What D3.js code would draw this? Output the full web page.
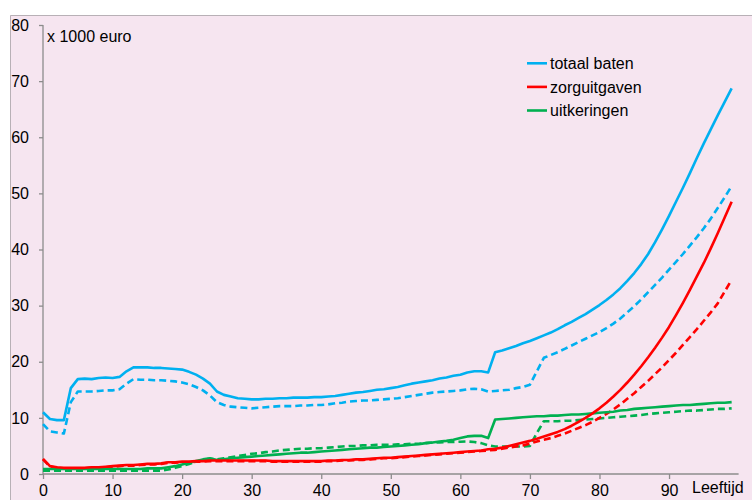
<!DOCTYPE html>
<html><head><meta charset="utf-8">
<script src="https://cdn.jsdelivr.net/npm/d3@7"></script>
<style>body{margin:0;background:#fff}svg{display:block}text{font-family:"Liberation Sans",Arial,sans-serif;fill:#000}</style>
</head><body>
<script>
const ages = d3.range(0, 100);
const xTicks = [0,10,20,30,40,50,60,70,80,90];
const yTicks = [0,10,20,30,40,50,60,70,80];
const legendLabels = ["totaal baten","zorguitgaven","uitkeringen"];

// solid = scenario 1, dashed = scenario 2 (x 1000 euro)
const totaalSolid = [11.0,9.8,9.6,9.6,15.3,16.9,17.0,16.9,17.1,17.2,17.1,17.3,18.3,19.0,19.0,19.0,18.9,18.9,18.8,18.7,
18.6,18.2,17.7,17.0,16.1,14.7,14.1,13.8,13.5,13.4,13.3,13.3,13.4,13.4,13.5,13.5,13.6,13.6,13.6,13.7,
13.7,13.8,13.9,14.1,14.3,14.5,14.6,14.8,15.0,15.1,15.3,15.5,15.8,16.1,16.3,16.5,16.7,17.0,17.2,17.5,
17.7,18.1,18.3,18.3,18.1,21.7,22.0,22.4,22.8,23.3,23.7,24.2,24.7,25.2,25.8,26.5,27.1,27.8,28.5,29.3,
30.1,31.0,32.0,33.1,34.4,35.8,37.4,39.2,41.3,43.6,46.0,48.5,51.0,53.6,56.3,58.9,61.4,63.9,66.3,68.7];
const totaalDashed = [8.9,7.6,7.4,7.2,12.8,14.7,14.7,14.7,14.8,14.9,14.9,15.1,16.1,16.9,16.8,16.8,16.7,16.7,16.6,16.5,
16.3,16.0,15.5,14.9,14.0,12.8,12.3,12.0,11.9,11.8,11.7,11.8,11.9,12.0,12.1,12.1,12.1,12.2,12.2,12.3,
12.3,12.4,12.6,12.7,12.9,13.0,13.1,13.1,13.2,13.3,13.4,13.5,13.7,13.9,14.1,14.3,14.5,14.6,14.7,14.8,
14.9,15.1,15.2,15.1,14.7,14.8,14.9,15.0,15.3,15.5,15.9,18.3,20.7,21.2,21.7,22.3,22.9,23.5,24.1,24.7,
25.3,26.0,26.8,27.7,28.8,29.9,31.1,32.4,33.7,35.0,36.4,37.8,39.2,40.7,42.2,43.8,45.5,47.4,49.3,51.3];
const zorgSolid = [2.7,1.4,1.2,1.1,1.1,1.1,1.1,1.2,1.2,1.3,1.4,1.5,1.6,1.6,1.7,1.8,1.8,1.9,2.1,2.1,
2.2,2.2,2.3,2.3,2.4,2.4,2.4,2.4,2.4,2.4,2.4,2.4,2.4,2.3,2.3,2.3,2.3,2.3,2.3,2.3,
2.3,2.4,2.4,2.5,2.5,2.6,2.6,2.7,2.8,2.9,2.9,3.0,3.1,3.2,3.3,3.4,3.5,3.6,3.7,3.8,
3.9,4.0,4.1,4.2,4.4,4.5,4.7,5.0,5.3,5.6,5.9,6.3,6.7,7.1,7.5,8.0,8.6,9.3,10.0,10.8,
11.7,12.7,13.8,15.0,16.3,17.7,19.2,20.8,22.5,24.3,26.2,28.3,30.5,32.8,35.2,37.6,40.2,42.9,45.7,48.5];
const zorgDashed = [2.6,1.3,1.1,1.0,1.0,1.0,1.0,1.1,1.1,1.2,1.3,1.4,1.5,1.5,1.6,1.7,1.7,1.8,2.0,2.0,
2.1,2.1,2.2,2.2,2.3,2.3,2.3,2.3,2.3,2.3,2.3,2.3,2.3,2.2,2.2,2.2,2.2,2.2,2.2,2.2,
2.2,2.3,2.3,2.4,2.4,2.5,2.5,2.6,2.7,2.8,2.8,2.9,3.0,3.1,3.2,3.3,3.4,3.5,3.6,3.7,
3.8,3.9,4.0,4.1,4.2,4.3,4.5,4.7,4.9,5.1,5.4,5.8,6.1,6.4,6.8,7.2,7.7,8.2,8.7,9.3,
10.0,10.7,11.5,12.4,13.4,14.4,15.5,16.6,17.8,19.0,20.3,21.6,23.0,24.4,25.8,27.3,28.8,30.4,32.5,34.6];
const uitkSolid = [0.9,0.9,0.9,0.9,0.9,0.9,0.9,0.9,0.9,0.9,0.9,0.9,0.9,0.9,0.9,1.0,1.0,1.0,1.2,1.4,
1.7,2.0,2.3,2.6,2.8,2.5,2.6,2.8,2.9,3.0,3.1,3.2,3.3,3.4,3.5,3.6,3.7,3.8,3.8,3.9,
4.0,4.1,4.2,4.3,4.4,4.5,4.6,4.7,4.7,4.8,4.9,5.0,5.1,5.2,5.3,5.5,5.6,5.8,5.9,6.1,
6.4,6.7,6.8,6.8,6.4,9.7,9.8,9.9,10.0,10.1,10.2,10.3,10.3,10.4,10.4,10.5,10.6,10.6,10.7,10.8,
10.9,11.0,11.1,11.3,11.4,11.6,11.7,11.8,11.9,12.0,12.1,12.2,12.3,12.3,12.4,12.5,12.6,12.7,12.7,12.8];
const uitkDashed = [0.6,0.6,0.6,0.6,0.6,0.6,0.6,0.6,0.6,0.6,0.6,0.6,0.6,0.6,0.6,0.6,0.6,0.6,0.8,1.1,
1.4,1.8,2.2,2.5,2.7,2.6,2.8,3.0,3.2,3.4,3.6,3.7,3.9,4.0,4.2,4.3,4.4,4.5,4.5,4.6,
4.6,4.7,4.8,4.9,5.0,5.0,5.1,5.1,5.2,5.2,5.2,5.3,5.3,5.4,5.4,5.5,5.6,5.6,5.7,5.7,
5.75,5.8,5.7,5.5,5.1,4.9,4.9,4.9,4.9,4.9,5.0,7.3,9.4,9.4,9.4,9.5,9.5,9.6,9.7,9.8,
9.9,10.0,10.1,10.2,10.3,10.4,10.5,10.7,10.8,10.9,11.0,11.1,11.2,11.3,11.3,11.4,11.5,11.6,11.6,11.7];

const colors = {blue:"#00B0F0", red:"#FF0000", green:"#00B050"};
const series = [
  {v: uitkDashed, c: colors.green, dash: true},
  {v: zorgDashed, c: colors.red, dash: true},
  {v: totaalDashed, c: colors.blue, dash: true},
  {v: uitkSolid, c: colors.green, dash: false},
  {v: zorgSolid, c: colors.red, dash: false},
  {v: totaalSolid, c: colors.blue, dash: false}
];

const W = 752, H = 500;
const FS = 16;
const svg = d3.select("body").append("svg").attr("width", W).attr("height", H);
svg.append("rect").attr("x",10).attr("y",15).attr("width",W-10).attr("height",H-15).attr("fill","#F6E5F0");
svg.append("path").attr("d","M10.5,500V15.5H752").attr("fill","none").attr("stroke","#B8B0B6").attr("stroke-width",1);

const x = d3.scaleLinear().domain([0,100]).range([43,738.6]);
const y = d3.scaleLinear().domain([0,80]).range([474,25]);

const axisColor = "#8C8C8C";
const gy = svg.append("g").attr("transform","translate(43,0)")
  .call(d3.axisLeft(y).tickValues(yTicks).tickSize(4).tickPadding(10).tickFormat(d3.format("d")));
const gx = svg.append("g").attr("transform","translate(0,474)")
  .call(d3.axisBottom(x).tickValues(xTicks).tickSize(5).tickPadding(6).tickFormat(d3.format("d")));
[gy,gx].forEach(g=>{
  g.select(".domain").attr("stroke",axisColor).attr("stroke-width",1.3);
  g.selectAll(".tick line").attr("stroke",axisColor).attr("stroke-width",1.3);
  g.selectAll(".tick text").attr("font-size",FS).attr("fill","#000").style("font-family","Liberation Sans, Arial, sans-serif");
});
gy.select(".domain").attr("d","M0,474V25");
gx.select(".domain").attr("d","M43,0H738.6");
gx.selectAll(".tick text").attr("dy","0.71em").attr("y",10.5);

svg.append("text").attr("x",47).attr("y",42.3).attr("font-size",FS).text("x 1000 euro");
svg.append("text").attr("x",692).attr("y",492.5).attr("font-size",FS).text("Leeftijd");

const line = d3.line().x((d,i)=>x(ages[i])).y(d=>y(d));
series.forEach(s=>{
  svg.append("path").datum(s.v).attr("d",line).attr("fill","none")
    .attr("stroke",s.c).attr("stroke-width",2.6)
    .attr("stroke-linejoin","round")
    .attr("stroke-dasharray", s.dash ? "7,4" : null);
});

const legendColors = [colors.blue, colors.red, colors.green];
const lg = svg.append("g");
legendLabels.forEach((t,i)=>{
  const yy = 63.3 + i*23.6;
  lg.append("line").attr("x1",527).attr("x2",547).attr("y1",yy).attr("y2",yy)
    .attr("stroke",legendColors[i]).attr("stroke-width",2.6);
  lg.append("text").attr("x",550).attr("y",yy+5.6).attr("font-size",FS).text(t);
});
</script>
</body></html>
